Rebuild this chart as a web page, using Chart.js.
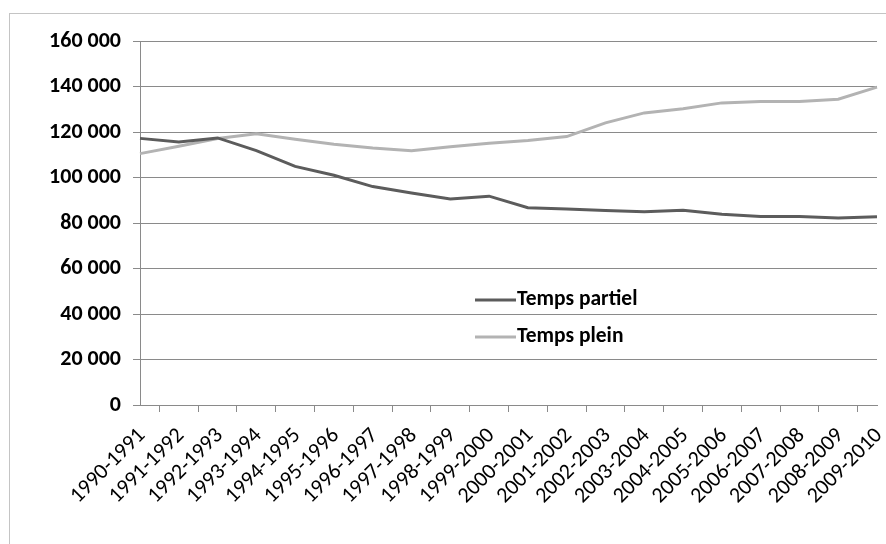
<!DOCTYPE html>
<html>
<head>
<meta charset="utf-8">
<script src="https://cdn.jsdelivr.net/npm/chart.js@4.4.1/dist/chart.umd.min.js"></script>
<style>
  html, body { margin: 0; padding: 0; background: #fff; }
  #chart { display: block; }
</style>
</head>
<body>
<canvas id="chart" width="886" height="544"></canvas>
<script>
// années scolaires
const annees = ['1990-1991','1991-1992','1992-1993','1993-1994','1994-1995','1995-1996','1996-1997',
  '1997-1998','1998-1999','1999-2000','2000-2001','2001-2002','2002-2003','2003-2004','2004-2005',
  '2005-2006','2006-2007','2007-2008','2008-2009','2009-2010'];

const tempsPartiel = [117200, 115600, 117400, 111800, 104900, 101000, 96000, 93200, 90600, 91800,
  86700, 86100, 85500, 85000, 85600, 83800, 82900, 82900, 82200, 82800];

const tempsPlein = [110500, 113700, 117100, 119200, 116800, 114600, 113000, 111800, 113500, 115100,
  116300, 118000, 124000, 128400, 130200, 132800, 133400, 133400, 134400, 139700];

const yTicks = [0, 20000, 40000, 60000, 80000, 100000, 120000, 140000, 160000];

const FONT = "Carlito, Lato, 'Open Sans', sans-serif";
const gris = '#8a8a8a';

function espaceMilliers(v) {
  return String(v).replace(/\B(?=(\d{3})+(?!\d))/g, ' ');
}

// cadre gris, étiquettes x à 45° et légende dans la zone de tracé
const cadreEtLegende = {
  id: 'cadreEtLegende',
  beforeDraw(chart) {
    const ctx = chart.ctx;
    ctx.save();
    ctx.strokeStyle = '#c4c4c4';
    ctx.lineWidth = 1;
    ctx.strokeRect(9.5, 13.5, 1000, 1000);
    ctx.restore();
  },
  afterDraw(chart) {
    const ctx = chart.ctx;
    const xs = chart.scales.x;

    ctx.save();
    ctx.font = '22px ' + FONT;
    ctx.fillStyle = '#000';
    ctx.textAlign = 'right';
    ctx.textBaseline = 'alphabetic';
    chart.data.labels.forEach((lab, i) => {
      const x = xs.getPixelForValue(i);
      ctx.save();
      ctx.translate(x + 6, xs.top + 31);
      ctx.rotate(-Math.PI / 4);
      ctx.fillText(lab, 0, 0);
      ctx.restore();
    });
    ctx.restore();

    ctx.save();
    ctx.font = 'bold 21.5px ' + FONT;
    ctx.textBaseline = 'middle';
    chart.data.datasets.forEach((ds, i) => {
      const y = 300 + i * 37;
      ctx.strokeStyle = ds.borderColor;
      ctx.lineWidth = 3;
      ctx.beginPath();
      ctx.moveTo(475, y);
      ctx.lineTo(516, y);
      ctx.stroke();
      ctx.fillStyle = '#000';
      ctx.fillText(ds.label, 517, y);
    });
    ctx.restore();
  }
};

new Chart(document.getElementById('chart'), {
  type: 'line',
  data: {
    labels: annees,
    datasets: [
      { label: 'Temps partiel', data: tempsPartiel, borderColor: '#5c5c5c', borderWidth: 3, pointRadius: 0, tension: 0 },
      { label: 'Temps plein', data: tempsPlein, borderColor: '#b3b3b3', borderWidth: 3, pointRadius: 0, tension: 0 }
    ]
  },
  options: {
    responsive: false,
    animation: false,
    layout: { padding: { top: 41, right: 9, left: 0, bottom: 0 } },
    plugins: { legend: { display: false }, tooltip: { enabled: false } },
    scales: {
      x: {
        grid: { drawOnChartArea: false, offset: true, color: gris, tickLength: 7 },
        border: { color: gris },
        ticks: { display: false, autoSkip: false },
        afterFit(scale) {
          scale.height = 139;
          scale.paddingLeft = 0;
          scale.paddingRight = 0;
        }
      },
      y: {
        min: yTicks[0],
        max: yTicks[yTicks.length - 1],
        grid: { color: gris, tickLength: 7 },
        border: { color: gris },
        ticks: {
          stepSize: yTicks[1] - yTicks[0], padding: 12,
          color: '#000', font: { family: FONT, size: 22, weight: 'bold' },
          callback: (v) => espaceMilliers(v)
        },
        afterFit(scale) { scale.width = 140; }
      }
    }
  },
  plugins: [cadreEtLegende]
});
</script>
</body>
</html>
